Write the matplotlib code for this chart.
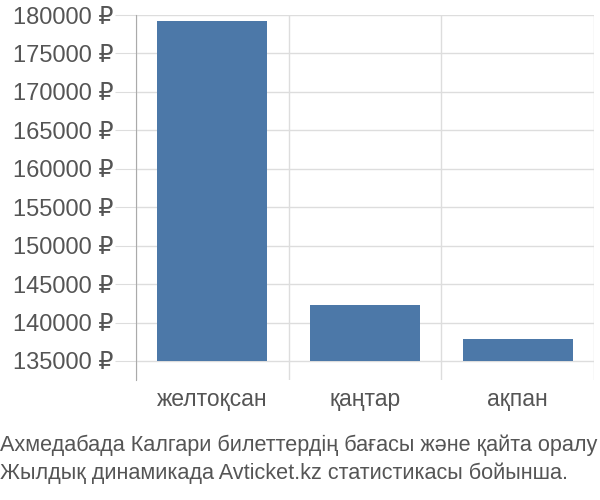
import matplotlib
matplotlib.use("Agg")
import matplotlib.pyplot as plt
from matplotlib.ticker import FuncFormatter

months = ["желтоқсан", "қаңтар", "ақпан"]
prices = [179200, 142300, 137900]
base = 135000
yticks = [135000, 140000, 145000, 150000, 155000, 160000, 165000, 170000, 175000, 180000]
title_lines = ["Ахмедабада Калгари билеттердің бағасы және қайта оралу",
               "Жылдық динамикада Avticket.kz статистикасы бойынша."]

plt.rcParams['font.family'] = ['Liberation Sans', 'DejaVu Sans']
txt = '#555555'

fig = plt.figure(figsize=(6, 5), dpi=100)
ax = fig.add_axes([136/600, 1 - 380/500, (594 - 136)/600, (380 - 15)/500])

x = list(range(len(months)))
ax.bar(x, [p - base for p in prices], bottom=base, width=0.72,
       color='#4c78a8', zorder=3)

ax.set_xlim(-0.5, len(months) - 0.5)
ax.set_ylim(base - 19/38.44*5000, 180000)
ax.set_yticks(yticks)
ax.yaxis.set_major_formatter(FuncFormatter(lambda v, p: f"{int(v)} ₽"))
ax.set_xticks(x)
ax.set_xticklabels(months)
ax.set_xticks([-0.5, 0.5, 1.5, 2.5], minor=True)

ax.grid(axis='y', which='major', color='#dddddd', lw=1, zorder=0)
ax.grid(axis='x', which='minor', color='#dddddd', lw=1, zorder=0)
ax.tick_params(axis='y', length=15, color='#dddddd', labelsize=17, labelcolor=txt, pad=1)
ax.tick_params(axis='x', which='major', length=0, labelsize=16.5, labelcolor=txt, pad=6)
ax.tick_params(axis='x', which='minor', length=0)
for s in ['top', 'right', 'bottom']:
    ax.spines[s].set_visible(False)
ax.spines['left'].set_color('#aaaaaa')

fig.text(0.0, 1 - 445/500, title_lines[0], fontsize=15.6, color=txt, va='center', ha='left')
fig.text(0.0, 1 - 473/500, title_lines[1], fontsize=15.6, color=txt, va='center', ha='left')

fig.savefig("out.png", dpi=100)
